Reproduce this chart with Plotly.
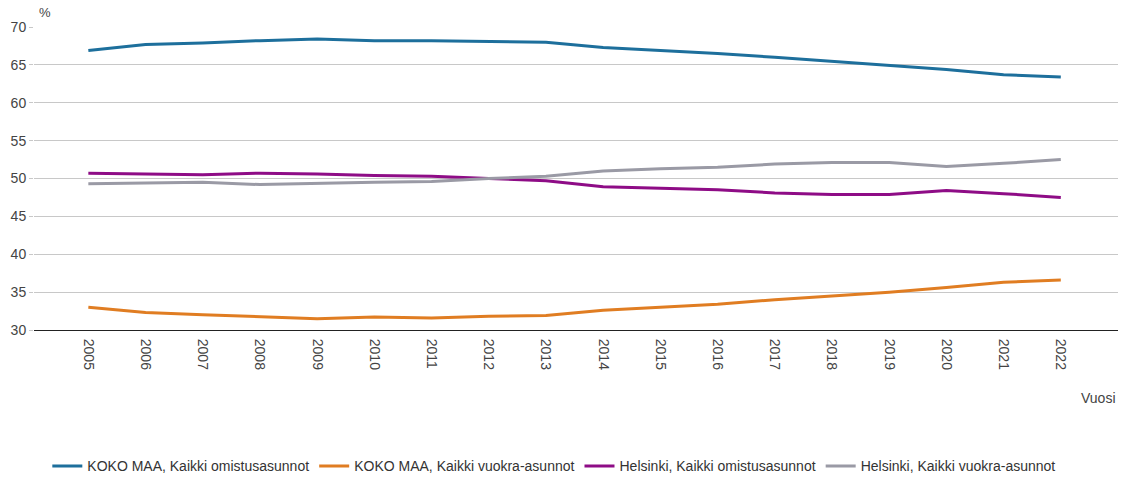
import plotly.graph_objects as go

years = [str(y) for y in range(2005, 2023)]

koko_omistus = [66.9, 67.7, 67.9, 68.2, 68.4, 68.2, 68.2, 68.1, 68.0, 67.3, 66.9, 66.5, 66.0, 65.5, 65.0, 64.4, 63.7, 63.4]
koko_vuokra = [33.0, 32.3, 32.0, 31.7, 31.5, 31.7, 31.6, 31.8, 31.9, 32.6, 33.0, 33.4, 34.0, 34.5, 35.0, 35.6, 36.3, 36.6]
hki_omistus = [50.7, 50.6, 50.5, 50.7, 50.6, 50.4, 50.3, 50.0, 49.7, 48.9, 48.7, 48.5, 48.1, 47.9, 47.9, 48.4, 48.0, 47.5]
hki_vuokra = [49.3, 49.4, 49.5, 49.2, 49.4, 49.5, 49.6, 50.0, 50.3, 51.0, 51.3, 51.5, 51.9, 52.1, 52.1, 51.6, 52.0, 52.5]

series_names = [
    "KOKO MAA, Kaikki omistusasunnot",
    "KOKO MAA, Kaikki vuokra-asunnot",
    "Helsinki, Kaikki omistusasunnot",
    "Helsinki, Kaikki vuokra-asunnot",
]
series_values = [koko_omistus, koko_vuokra, hki_omistus, hki_vuokra]
colors = ["#1d6f9c", "#e07d22", "#8e0c86", "#9a9aa5"]

fig = go.Figure()
for name, vals, col in zip(series_names, series_values, colors):
    fig.add_trace(go.Scatter(x=years, y=vals, mode="lines", name=name,
                             line=dict(color=col, width=3)))

fig.update_layout(
    width=1126, height=477,
    margin=dict(l=34, r=8, t=27, b=147, autoexpand=False),
    paper_bgcolor="white", plot_bgcolor="white",
    font=dict(family="Liberation Sans, Arial, sans-serif", size=14, color="#333"),
    showlegend=True,
    legend=dict(orientation="h", x=0.48, xanchor="center",
                y=-0.45, yanchor="middle",
                font=dict(size=14, color="#333"), itemwidth=30, tracegroupgap=0),
    xaxis=dict(type="category", range=[-0.95, 18], tickangle=90,
               showgrid=False, showline=True, linecolor="#222", linewidth=1,
               ticks="outside", ticklen=5, tickcolor="rgba(0,0,0,0)",
               tickfont=dict(size=14, color="#444"), zeroline=False,
               automargin=False),
    yaxis=dict(range=[30, 70], dtick=5, showgrid=True, gridcolor="#c8c8c8",
               gridwidth=1, zeroline=False, showline=False,
               ticks="outside", ticklen=4, tickcolor="#c8c8c8",
               tickfont=dict(size=14, color="#444"), automargin=False),
    annotations=[
        dict(text="%", x=0.003, y=1.015, xref="paper", yref="paper",
             xanchor="left", yanchor="bottom", showarrow=False,
             font=dict(size=13, color="#444")),
        dict(text="Vuosi", x=1.0, y=-0.225, xref="paper", yref="paper",
             xanchor="right", yanchor="middle", showarrow=False,
             font=dict(size=14, color="#444")),
    ],
)

fig.write_html("out.html")
